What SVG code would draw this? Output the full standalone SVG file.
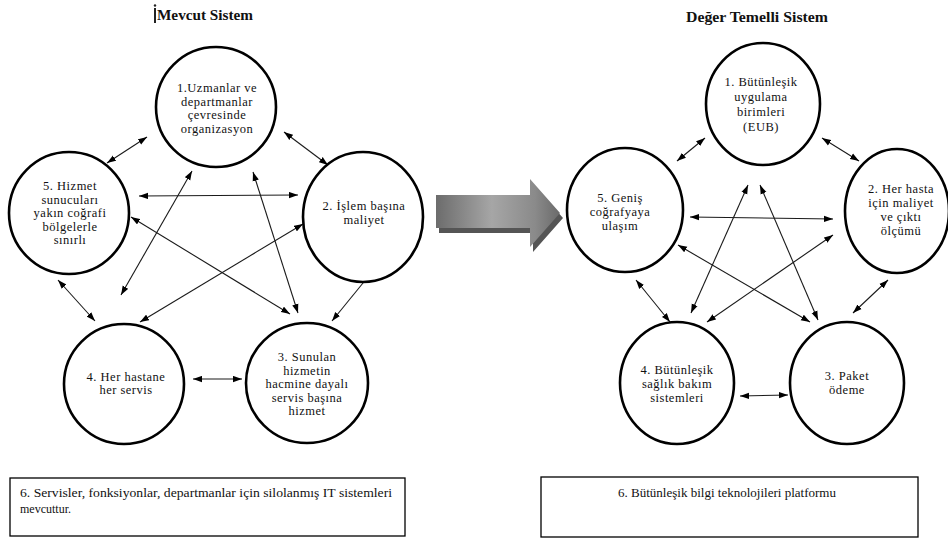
<svg xmlns="http://www.w3.org/2000/svg" width="948" height="539" viewBox="0 0 948 539">
  <style>
    .node ellipse { fill: #ffffff; stroke: #000000; stroke-width: 2.6; }
    .lbl { font-family: "Liberation Serif", "DejaVu Serif", "Times New Roman", serif; font-size: 12.5px; letter-spacing: 0.5px; fill: #111111; text-anchor: middle; }
    .title { font-family: "Liberation Serif", "DejaVu Serif", "Times New Roman", serif; font-size: 14px; font-weight: bold; fill: #111111; text-anchor: middle; }
    .box rect { fill: #ffffff; stroke: #000000; stroke-width: 1.3; }
    .boxtxt { font-family: "Liberation Serif", "DejaVu Serif", "Times New Roman", serif; font-size: 12px; fill: #111111; }
    .conn line { stroke: #1a1a1a; stroke-width: 1.1; marker-start: url(#head); marker-end: url(#head); }
  </style>
  <defs>
    <marker id="head" viewBox="0 0 10 7" refX="10" refY="3.5" markerWidth="9" markerHeight="7" markerUnits="userSpaceOnUse" orient="auto-start-reverse">
      <path d="M0,0 L10,3.5 L0,7 Z" fill="#000000"/>
    </marker>
    <linearGradient id="arrowFill" x1="0" y1="0" x2="1" y2="0">
      <stop offset="0" stop-color="#6c6c6c"/>
      <stop offset="0.45" stop-color="#a6a6a6"/>
      <stop offset="0.8" stop-color="#8a8a8a"/>
      <stop offset="1" stop-color="#6a6a6a"/>
    </linearGradient>
  </defs>

  <rect width="948" height="539" fill="#ffffff"/>

  <!-- Titles (with the editor's text cursor before the first one) -->
  <rect x="154" y="8" width="2" height="15" fill="#222222"/>
  <circle cx="155" cy="5.5" r="1.2" fill="#222222"/>
  <text class="title" x="205" y="20" textLength="96" lengthAdjust="spacingAndGlyphs">Mevcut Sistem</text>
  <text class="title" x="757" y="22" textLength="142" lengthAdjust="spacingAndGlyphs">Değer Temelli  Sistem</text>

  <!-- Transition arrow -->
  <g id="transition-arrow">
    <path d="M439,228 H533 V233 H439 Z M533,184 L563,218 L533,252 Z" fill="#555555"/>
    <path d="M436,195 H530 V179 L560,213 L530,247 V228 H436 Z" fill="url(#arrowFill)"/>
  </g>

  <!-- Connectors: current system -->
  <g id="connectors-left" class="conn">
    <line x1="107" y1="163" x2="147" y2="137"/>
    <line x1="284" y1="132" x2="328" y2="165"/>
    <line x1="139" y1="196" x2="298" y2="195"/>
    <line x1="192" y1="171" x2="121" y2="295"/>
    <line x1="253" y1="172" x2="298" y2="313"/>
    <line x1="131" y1="217" x2="290" y2="314"/>
    <line x1="303" y1="224" x2="140" y2="322"/>
    <line x1="58" y1="280" x2="95" y2="321"/>
    <line x1="372" y1="272" x2="332" y2="321"/>
    <line x1="193" y1="379" x2="242" y2="379"/>
  </g>

  <!-- Connectors: value-based system -->
  <g id="connectors-right" class="conn">
    <line x1="705" y1="138" x2="677" y2="161"/>
    <line x1="822" y1="138" x2="859" y2="161"/>
    <line x1="690" y1="217" x2="833" y2="219"/>
    <line x1="748" y1="185" x2="691" y2="313"/>
    <line x1="760" y1="185" x2="818" y2="320"/>
    <line x1="678" y1="245" x2="810" y2="322"/>
    <line x1="833" y1="235" x2="707" y2="322"/>
    <line x1="636" y1="280" x2="670" y2="322"/>
    <line x1="888" y1="280" x2="853" y2="313"/>
    <line x1="740" y1="396" x2="788" y2="395"/>
  </g>

  <!-- Nodes: current system -->
  <g id="l1" class="node">
    <ellipse cx="216" cy="107" rx="60" ry="60"/>
    <text class="lbl"><tspan x="217" y="92">1.Uzmanlar ve</tspan><tspan x="217" y="105.5">departmanlar</tspan><tspan x="217" y="119">çevresinde</tspan><tspan x="217" y="132.5">organizasyon</tspan></text>
  </g>
  <g id="l2" class="node">
    <ellipse cx="363" cy="217" rx="60" ry="65"/>
    <text class="lbl"><tspan x="364" y="210">2. İşlem başına</tspan><tspan x="364" y="224">maliyet</tspan></text>
  </g>
  <g id="l3" class="node">
    <ellipse cx="307" cy="383" rx="61" ry="60"/>
    <text class="lbl"><tspan x="307" y="361">3. Sunulan</tspan><tspan x="307" y="374.5">hizmetin</tspan><tspan x="307" y="388">hacmine dayalı</tspan><tspan x="307" y="401.5">servis başına</tspan><tspan x="307" y="415">hizmet</tspan></text>
  </g>
  <g id="l4" class="node">
    <ellipse cx="124" cy="384" rx="60" ry="60"/>
    <text class="lbl"><tspan x="126" y="381">4. Her hastane</tspan><tspan x="126" y="394">her servis</tspan></text>
  </g>
  <g id="l5" class="node">
    <ellipse cx="69" cy="213" rx="60" ry="61"/>
    <text class="lbl"><tspan x="70" y="190">5. Hizmet</tspan><tspan x="70" y="203.5">sunucuları</tspan><tspan x="70" y="217">yakın coğrafi</tspan><tspan x="70" y="230.5">bölgelerle</tspan><tspan x="70" y="244">sınırlı</tspan></text>
  </g>

  <!-- Nodes: value-based system -->
  <g id="r1" class="node">
    <ellipse cx="763" cy="104" rx="57" ry="61"/>
    <text class="lbl"><tspan x="761" y="86">1. Bütünleşik</tspan><tspan x="761" y="101">uygulama</tspan><tspan x="761" y="116">birimleri</tspan><tspan x="761" y="131">(EUB)</tspan></text>
  </g>
  <g id="r2" class="node">
    <ellipse cx="897" cy="211" rx="52" ry="62"/>
    <text class="lbl"><tspan x="901" y="193">2.  Her hasta</tspan><tspan x="901" y="207">için maliyet</tspan><tspan x="901" y="221">ve çıktı</tspan><tspan x="901" y="235">ölçümü</tspan></text>
  </g>
  <g id="r3" class="node">
    <ellipse cx="847" cy="383" rx="57" ry="61"/>
    <text class="lbl"><tspan x="847" y="380">3. Paket</tspan><tspan x="847" y="394">ödeme</tspan></text>
  </g>
  <g id="r4" class="node">
    <ellipse cx="677" cy="383" rx="57" ry="61"/>
    <text class="lbl"><tspan x="677" y="374">4. Bütünleşik</tspan><tspan x="677" y="388">sağlık bakım</tspan><tspan x="677" y="402">sistemleri</tspan></text>
  </g>
  <g id="r5" class="node">
    <ellipse cx="625" cy="210" rx="58" ry="62"/>
    <text class="lbl"><tspan x="620" y="202">5. Geniş</tspan><tspan x="620" y="216">coğrafyaya</tspan><tspan x="620" y="230">ulaşım</tspan></text>
  </g>

  <!-- Platform boxes -->
  <g id="l6" class="box">
    <rect x="10" y="478" width="395" height="58"/>
    <text class="boxtxt" x="20" y="497" textLength="372" lengthAdjust="spacingAndGlyphs">6. Servisler, fonksiyonlar, departmanlar için silolanmış IT sistemleri</text>
    <text class="boxtxt" x="20" y="513">mevcuttur.</text>
  </g>
  <g id="r6" class="box">
    <rect x="541" y="477" width="377" height="60"/>
    <text class="boxtxt" x="727" y="497" text-anchor="middle" textLength="218" lengthAdjust="spacingAndGlyphs">6. Bütünleşik bilgi teknolojileri  platformu</text>
  </g>
</svg>
